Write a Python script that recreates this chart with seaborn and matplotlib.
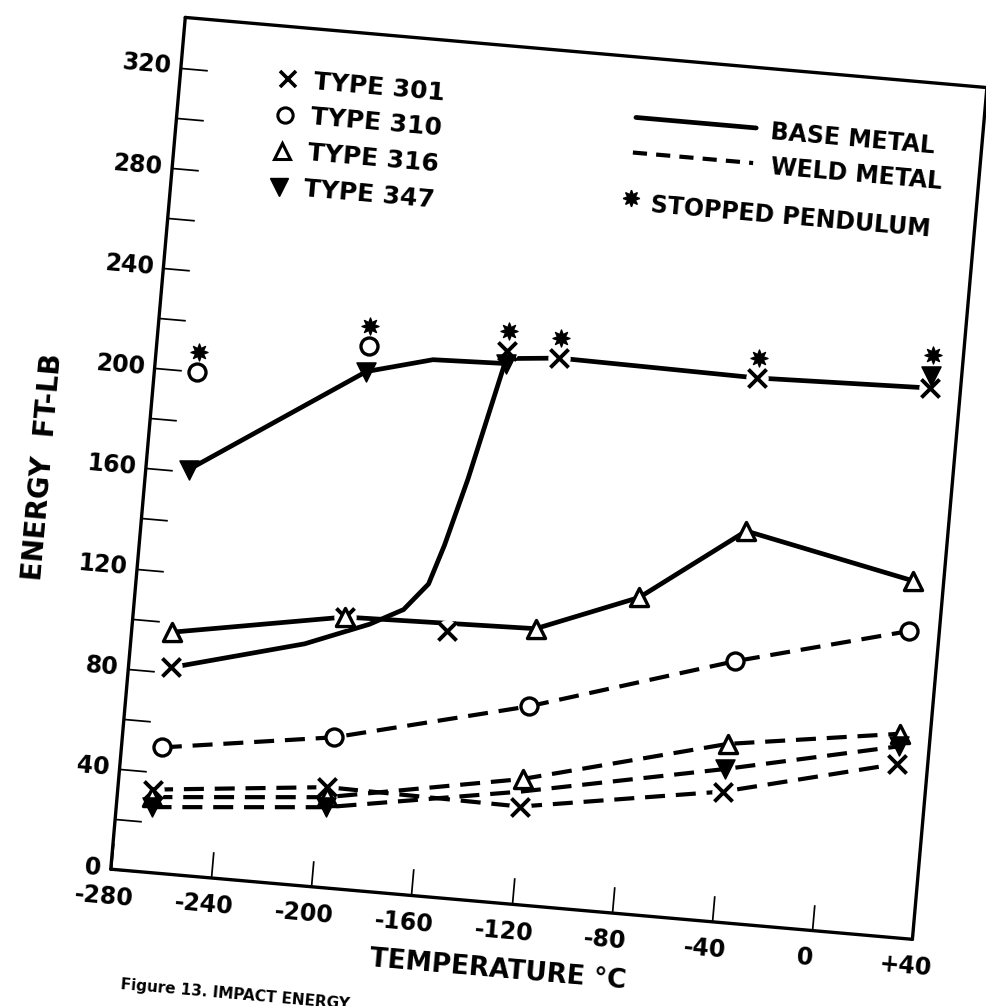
import matplotlib
matplotlib.use("Agg")
import numpy as np
import matplotlib.pyplot as plt
import seaborn as sns
from matplotlib.transforms import Affine2D
import mpl_toolkits.axisartist.floating_axes as floating_axes
from mpl_toolkits.axisartist.grid_finder import FixedLocator

# ---------------------------------------------------------------- data
x_ticks = [-280, -240, -200, -160, -120, -80, -40, 0, 40]
x_tick_labels = ["-280", "-240", "-200", "-160", "-120", "-80", "-40", "0", "+40"]
y_ticks = list(range(0, 321, 20))
y_label_values = list(range(0, 321, 40))
y_tick_labels = [str(v) for v in y_label_values]

# base metal (solid lines)
t301_base_temp = [-263, -196, -155, -141, -120, -41, 28]
t301_base_energy = [82, 108, 106, 219, 218, 217, 219]
t301_curve_temp = [-263, -237, -211, -186, -173, -164, -159, -152, -141, -120, -41, 28]
t301_curve_energy = [82, 89, 96, 106, 113, 124, 140, 167, 216, 218, 217, 219]

t347_base_temp = [-263, -196, -141, 28]
t347_base_energy = [161, 206, 214, 224]
t347_curve_temp = [-263, -196, -170, -141]
t347_curve_energy = [161, 206, 213, 214]

t316_base_temp = [-264, -196, -120, -80, -40, 28]
t316_base_energy = [96, 108, 110, 126, 156, 142]

t310_base_temp = [-263, -196]
t310_base_energy = [200, 216]

# weld metal (dashed lines)
weld_temp = [-266, -197, -120, -40, 28]
t301_weld_energy = [33, 40, 39, 52, 69]
t316_weld_energy = [30, 36, 50, 71, 81]
t347_weld_energy = [26, 32, 45, 61, 76]
t310_weld_temp = [-264, -196, -120, -40, 28]
t310_weld_energy = [50, 60, 79, 104, 122]
t347_weld_marker_temp = [-266, -197, -40, 28]
t347_weld_marker_energy = [26, 32, 61, 76]

# tests where the pendulum stopped
sp_temp = [-263, -196, -141, -120, -41, 28]
sp_energy = [200, 216, 219, 218, 217, 224]

# ---------------------------------------------------------------- style
sns.set_theme(style="white")
plt.rcParams["font.family"] = ["DejaVu Sans"]
plt.rcParams["font.weight"] = "bold"

W, H = 987, 1006
TILT = -5.0
PX_PER_UNIT = 2.565
ORIGIN_PX = (102, H - 877)
SP_LIFT = 8
INK = "black"
FS = 17

fig = plt.figure(figsize=(W / 100, H / 100), dpi=100)
fig.patch.set_facecolor("white")

tr = Affine2D().rotate_deg(TILT)
extent = (-280, 40, 0, 340)
grid_helper = floating_axes.GridHelperCurveLinear(
    tr, extremes=extent,
    grid_locator1=FixedLocator(x_ticks),
    grid_locator2=FixedLocator(y_ticks))

corners = tr.transform([[extent[0], extent[2]], [extent[1], extent[2]],
                        [extent[0], extent[3]], [extent[1], extent[3]]])
cmin, cmax = corners.min(axis=0), corners.max(axis=0)
o = corners[0]
left_px = ORIGIN_PX[0] - (o[0] - cmin[0]) * PX_PER_UNIT
bottom_px = ORIGIN_PX[1] - (o[1] - cmin[1]) * PX_PER_UNIT
w_px = (cmax[0] - cmin[0]) * PX_PER_UNIT
h_px = (cmax[1] - cmin[1]) * PX_PER_UNIT
ax = fig.add_axes([left_px / W, bottom_px / H, w_px / W, h_px / H],
                  axes_class=floating_axes.FloatingAxes, grid_helper=grid_helper)

for side in ["left", "bottom", "right", "top"]:
    ax.axis[side].line.set_linewidth(2.4)
    ax.axis[side].line.set_color(INK)
    ax.axis[side].major_ticklabels.set_visible(False)
    ax.axis[side].label.set_visible(False)
for side in ["left", "bottom"]:
    ax.axis[side].major_ticks.set_ticksize(19)
    ax.axis[side].major_ticks.set_linewidth(2.2)
    ax.axis[side].major_ticks.set_color(INK)
for side in ["right", "top"]:
    ax.axis[side].major_ticks.set_visible(False)

aux = ax.get_aux_axes(tr)

# ---------------------------------------------------------------- lines
BASE_LW = 3.4
WELD_LW = 3.0
WELD_DASH = (0, (4.8, 2.6))


def solid(temp, energy):
    sns.lineplot(x=temp, y=energy, ax=aux, color=INK, linewidth=BASE_LW,
                 sort=False, estimator=None, legend=False, zorder=2)


def dashed(temp, energy):
    sns.lineplot(x=temp, y=energy, ax=aux, color=INK, linewidth=WELD_LW,
                 linestyle=WELD_DASH, sort=False, estimator=None,
                 legend=False, zorder=2)


solid(t301_curve_temp, t301_curve_energy)
solid(t347_curve_temp, t347_curve_energy)
solid(t316_base_temp, t316_base_energy)

dashed(weld_temp, t301_weld_energy)
dashed(weld_temp, t316_weld_energy)
dashed(weld_temp, t347_weld_energy)
dashed(t310_weld_temp, t310_weld_energy)

# ---------------------------------------------------------------- markers
def mark_x(temp, energy):
    sns.scatterplot(x=temp, y=energy, ax=aux, marker="o", s=260,
                    color="white", linewidth=0, zorder=3, legend=False)
    sns.scatterplot(x=temp, y=energy, ax=aux, marker="x", s=170,
                    color=INK, linewidth=2.8, zorder=4, legend=False)


def mark_open(temp, energy, marker, size):
    sns.scatterplot(x=temp, y=energy, ax=aux, marker=marker, s=size,
                    facecolor="white", edgecolor=INK, linewidth=2.4,
                    zorder=4, legend=False)


def mark_down(temp, energy):
    sns.scatterplot(x=temp, y=energy, ax=aux, marker="v", s=190,
                    color=INK, edgecolor=INK, linewidth=1, zorder=4,
                    legend=False)


mark_x(t301_base_temp, t301_base_energy)
mark_open(t316_base_temp, t316_base_energy, "^", 170)
mark_open(t310_base_temp, t310_base_energy, "o", 150)
mark_down(t347_base_temp, t347_base_energy)

mark_x(weld_temp, t301_weld_energy)
mark_open(weld_temp, t316_weld_energy, "^", 170)
mark_open(t310_weld_temp, t310_weld_energy, "o", 150)
mark_down(t347_weld_marker_temp, t347_weld_marker_energy)

sns.scatterplot(x=sp_temp, y=[e + SP_LIFT for e in sp_energy], ax=aux,
                marker=(8, 1, 0), s=150, color=INK, linewidth=1.0,
                edgecolor=INK, zorder=5, legend=False)

# ---------------------------------------------------------------- tick labels
for v, lab in zip(y_label_values, y_tick_labels):
    aux.text(-284, v, lab, ha="right", va="center", fontsize=FS,
             rotation=TILT, rotation_mode="anchor", color=INK)
for v, lab in zip(x_ticks, x_tick_labels):
    aux.text(v - 2, -11, lab, ha="center", va="center", fontsize=FS,
             rotation=TILT, rotation_mode="anchor", color=INK)

aux.text(-321, 157, "ENERGY  FT-LB", ha="center", va="center", fontsize=20,
         rotation=90 + TILT, rotation_mode="anchor", color=INK)
aux.text(-123, -26.5, "TEMPERATURE °C", ha="center", va="center", fontsize=19,
         rotation=TILT, rotation_mode="anchor", color=INK)
aux.text(-272, -45.5, "Figure 13. IMPACT ENERGY", ha="left", va="center",
         fontsize=11, rotation=TILT, rotation_mode="anchor", color=INK)

# ---------------------------------------------------------------- legends
type_rows = [("x", "TYPE 301"), ("o", "TYPE 310"), ("^", "TYPE 316"), ("v", "TYPE 347")]
for i, (mk, lab) in enumerate(type_rows):
    yy = 319 - 14.3 * i
    if mk == "x":
        aux.plot([-237], [yy], marker="x", ms=12, mew=2.6, color=INK, ls="none")
    elif mk == "v":
        aux.plot([-237], [yy], marker="v", ms=13, color=INK, ls="none")
    else:
        aux.plot([-237], [yy], marker=mk, ms=11, mew=2.2, mfc="white",
                 mec=INK, ls="none")
    aux.text(-227, yy, lab, ha="left", va="center", fontsize=18,
             rotation=TILT, rotation_mode="anchor", color=INK)

aux.plot([-98, -50], [316, 316], color=INK, lw=BASE_LW)
aux.text(-44, 315, "BASE METAL", ha="left", va="center", fontsize=17,
         rotation=TILT, rotation_mode="anchor", color=INK)
aux.plot([-98, -50], [302, 302], color=INK, lw=WELD_LW, ls=(0, (3.4, 2.2)))
aux.text(-43, 301, "WELD METAL", ha="left", va="center", fontsize=17,
         rotation=TILT, rotation_mode="anchor", color=INK)
aux.plot([-97], [284], marker=(8, 1, 0), ms=12, color=INK, ls="none")
aux.text(-89, 282, "STOPPED PENDULUM", ha="left", va="center", fontsize=17,
         rotation=TILT, rotation_mode="anchor", color=INK)

aux.set_xlabel("")
aux.set_ylabel("")

fig.savefig("out.png", dpi=100, facecolor="white")
